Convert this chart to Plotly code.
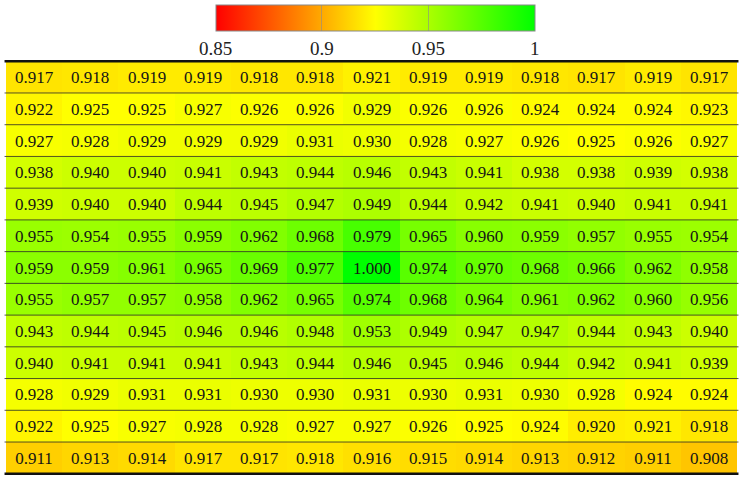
import plotly.graph_objects as go

# values per row, top row first
row_01 = [0.917, 0.918, 0.919, 0.919, 0.918, 0.918, 0.921, 0.919, 0.919, 0.918, 0.917, 0.919, 0.917]
row_02 = [0.922, 0.925, 0.925, 0.927, 0.926, 0.926, 0.929, 0.926, 0.926, 0.924, 0.924, 0.924, 0.923]
row_03 = [0.927, 0.928, 0.929, 0.929, 0.929, 0.931, 0.930, 0.928, 0.927, 0.926, 0.925, 0.926, 0.927]
row_04 = [0.938, 0.940, 0.940, 0.941, 0.943, 0.944, 0.946, 0.943, 0.941, 0.938, 0.938, 0.939, 0.938]
row_05 = [0.939, 0.940, 0.940, 0.944, 0.945, 0.947, 0.949, 0.944, 0.942, 0.941, 0.940, 0.941, 0.941]
row_06 = [0.955, 0.954, 0.955, 0.959, 0.962, 0.968, 0.979, 0.965, 0.960, 0.959, 0.957, 0.955, 0.954]
row_07 = [0.959, 0.959, 0.961, 0.965, 0.969, 0.977, 1.000, 0.974, 0.970, 0.968, 0.966, 0.962, 0.958]
row_08 = [0.955, 0.957, 0.957, 0.958, 0.962, 0.965, 0.974, 0.968, 0.964, 0.961, 0.962, 0.960, 0.956]
row_09 = [0.943, 0.944, 0.945, 0.946, 0.946, 0.948, 0.953, 0.949, 0.947, 0.947, 0.944, 0.943, 0.940]
row_10 = [0.940, 0.941, 0.941, 0.941, 0.943, 0.944, 0.946, 0.945, 0.946, 0.944, 0.942, 0.941, 0.939]
row_11 = [0.928, 0.929, 0.931, 0.931, 0.930, 0.930, 0.931, 0.930, 0.931, 0.930, 0.928, 0.924, 0.924]
row_12 = [0.922, 0.925, 0.927, 0.928, 0.928, 0.927, 0.927, 0.926, 0.925, 0.924, 0.920, 0.921, 0.918]
row_13 = [0.911, 0.913, 0.914, 0.917, 0.917, 0.918, 0.916, 0.915, 0.914, 0.913, 0.912, 0.911, 0.908]

z = [row_01, row_02, row_03, row_04, row_05, row_06, row_07,
     row_08, row_09, row_10, row_11, row_12, row_13]

cbar_ticks = [0.85, 0.9, 0.95, 1.0]
cbar_labels = ["0.85", "0.9", "0.95", "1"]

SERIF = "Liberation Serif, DejaVu Serif, serif"

fig = go.Figure(
    go.Heatmap(
        z=z,
        zmin=0.85,
        zmax=1.0,
        colorscale=[[0.0, "rgb(255,0,0)"], [0.5, "rgb(255,255,0)"], [1.0, "rgb(0,255,0)"]],
        texttemplate="%{z:.3f}",
        textfont=dict(family=SERIF, size=17, color="#151515"),
        hoverinfo="skip",
        colorbar=dict(
            orientation="h",
            x=0.505,
            xanchor="center",
            y=1.1325,
            yanchor="top",
            len=319,
            lenmode="pixels",
            thickness=26,
            outlinecolor="#888",
            outlinewidth=1,
            tickvals=cbar_ticks,
            ticktext=cbar_labels,
            ticks="inside",
            ticklen=26,
            tickcolor="rgba(140,140,140,0.6)",
            tickfont=dict(family=SERIF, size=19, color="#222"),
            xpad=0,
            ypad=0,
        ),
    )
)

n_rows = len(z)
# booktabs-style rules: thick top/bottom, thin between rows
for i in range(n_rows + 1):
    edge = i in (0, n_rows)
    fig.add_shape(
        type="line",
        xref="paper",
        yref="y",
        x0=-0.002,
        x1=1.002,
        y0=i - 0.5,
        y1=i - 0.5,
        line=dict(color="#111" if edge else "rgba(40,40,40,0.8)", width=2.5 if edge else 1),
    )

fig.update_xaxes(visible=False)
fig.update_yaxes(visible=False, autorange="reversed")
fig.update_layout(
    width=743,
    height=480,
    margin=dict(l=6, r=6, t=60, b=5, autoexpand=False),
    plot_bgcolor="white",
    paper_bgcolor="white",
)

# drop the browser's default body margin so the figure sits at the page corner
fig.write_html(
    "out.html",
    config={"displayModeBar": False},
    post_script="document.body.style.margin='0';",
)
